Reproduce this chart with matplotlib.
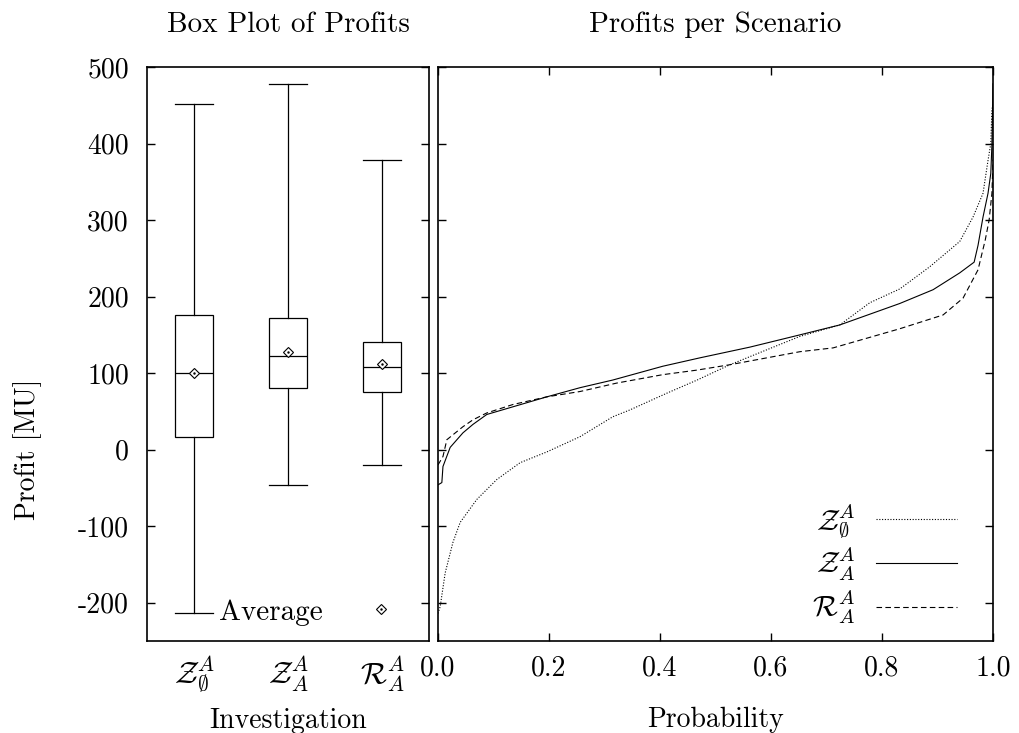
import numpy as np
import matplotlib.pyplot as plt

plt.rcParams.update({
    "font.family": "serif",
    "font.serif": ["cmr10"],
    "mathtext.fontset": "cm",
    "axes.formatter.use_mathtext": True,
    "axes.unicode_minus": False,
    "font.size": 20,
})

# box plot statistics per investigation
groups = [r"$\mathcal{Z}_{\emptyset}^{A}$", r"$\mathcal{Z}_{A}^{A}$", r"$\mathcal{R}_{A}^{A}$"]
whisker_low = [-214, -46, -20]
quart1 = [17, 81, 76]
medians = [100, 123, 108]
quart3 = [176, 172, 141]
whisker_high = [452, 478, 379]
means = [100, 128, 112]

# sorted profits per scenario
p_zempty = [0.0, 0.004, 0.013, 0.027, 0.04, 0.07, 0.106, 0.148, 0.196, 0.256, 0.315, 0.346,
            0.413, 0.467, 0.526, 0.652, 0.724, 0.778, 0.832, 0.886, 0.94, 0.964, 0.982,
            0.991, 0.996, 0.998, 1.0]
v_zempty = [-214, -205, -161, -121, -95, -65, -39, -17, -3, 17, 43, 52,
            74, 91, 111, 148, 163, 192, 210, 239, 272, 304, 335,
            378, 400, 444, 452]

p_za = [0.0, 0.007, 0.009, 0.022, 0.045, 0.063, 0.088, 0.135, 0.196, 0.256, 0.315, 0.405,
        0.472, 0.562, 0.652, 0.724, 0.832, 0.892, 0.94, 0.966, 0.973, 0.982, 0.991, 0.996,
        0.998, 1.0]
v_za = [-46, -43, -22, 3, 22, 33, 46, 56, 69, 81, 91, 109,
        120, 134, 150, 163, 191, 209, 231, 245, 267, 304, 335, 361,
        398, 478]

p_ra = [0.0, 0.009, 0.016, 0.045, 0.063, 0.088, 0.135, 0.196, 0.256, 0.322, 0.405, 0.467,
        0.526, 0.652, 0.712, 0.832, 0.91, 0.946, 0.973, 0.986, 0.993, 0.998, 1.0]
v_ra = [-20, -9, 13, 30, 39, 48, 59, 69, 76, 87, 98, 104,
        111, 128, 133, 158, 176, 198, 235, 274, 300, 335, 379]

yticks = [-200, -100, 0, 100, 200, 300, 400, 500]
ytick_labels = ["-200", "-100", "0", "100", "200", "300", "400", "500"]
xticks = [0.0, 0.2, 0.4, 0.6, 0.8, 1.0]
xtick_labels = ["0.0", "0.2", "0.4", "0.6", "0.8", "1.0"]

fig = plt.figure(figsize=(10.19, 7.33), dpi=100)
ax1 = fig.add_axes([0.1443, 0.1255, 0.2767, 0.7831])
ax2 = fig.add_axes([0.4298, 0.1255, 0.5447, 0.7831])

for ax in (ax1, ax2):
    for s in ax.spines.values():
        s.set_linewidth(1.2)
    ax.set_ylim(-250, 500)
    ax.set_yticks(yticks)
    ax.tick_params(axis="both", direction="in", length=6, width=1.0,
                   left=True, right=True, top=True, bottom=True)
    ax.tick_params(axis="y", pad=13)
    ax.tick_params(axis="x", pad=10)

# left: box plot
positions = np.arange(1, len(groups) + 1)
stats = []
for i in range(len(groups)):
    stats.append({"whislo": whisker_low[i], "q1": quart1[i], "med": medians[i],
                  "q3": quart3[i], "whishi": whisker_high[i], "fliers": []})
lw = 0.9
ax1.bxp(stats, positions=positions, widths=0.4, capwidths=0.4, showfliers=False,
        patch_artist=True,
        boxprops=dict(facecolor="white", edgecolor="black", linewidth=lw),
        medianprops=dict(color="black", linewidth=lw),
        whiskerprops=dict(color="black", linewidth=lw),
        capprops=dict(color="black", linewidth=lw))
diamonds = ax1.plot(positions, means, "D", ms=5, mfc="white", mec="black", mew=0.8, zorder=5)
dots = ax1.plot(positions, means, ".", ms=1.5, color="black", zorder=6)
ax1.set_xlim(0.5, 3.5)
ax1.set_xticks(positions)
ax1.set_xticklabels(groups)
ax1.tick_params(axis="x", length=0, labelsize=22, pad=9)
ax1.set_yticklabels(ytick_labels)
ax1.set_title("Box Plot of Profits", pad=25, fontsize=21)
ax1.set_xlabel("Investigation", labelpad=10)
ax1.set_ylabel("Profit [MU]")
ax1.yaxis.set_label_coords(-0.372, 0.333)
ax1.legend([(diamonds[0], dots[0])], ["Average"], loc="center right",
           bbox_to_anchor=(0.988, 0.05), markerfirst=False, frameon=False,
           numpoints=1, handlelength=3.03, handletextpad=0.5, borderpad=0,
           borderaxespad=0, fontsize=21)

# right: profits per scenario
ax2.plot(p_zempty, v_zempty, color="black", lw=0.8, ls=(0, (1, 1.5)), label=groups[0])
ax2.plot(p_za, v_za, color="black", lw=0.8, ls="-", label=groups[1])
ax2.plot(p_ra, v_ra, color="black", lw=0.8, ls=(0, (5, 3)), label=groups[2])
ax2.set_xlim(0, 1)
ax2.set_xticks(xticks)
ax2.set_xticklabels(xtick_labels)
ax2.set_yticklabels([])
ax2.set_title("Profits per Scenario", pad=25, fontsize=21)
ax2.set_xlabel("Probability", labelpad=18)
ax2.legend(loc="lower right", bbox_to_anchor=(0.962, 0.0), markerfirst=False,
           frameon=False, handlelength=2.8, handletextpad=0.7, borderpad=0,
           labelspacing=0.21, fontsize=21)

fig.savefig("out.png", dpi=100)
